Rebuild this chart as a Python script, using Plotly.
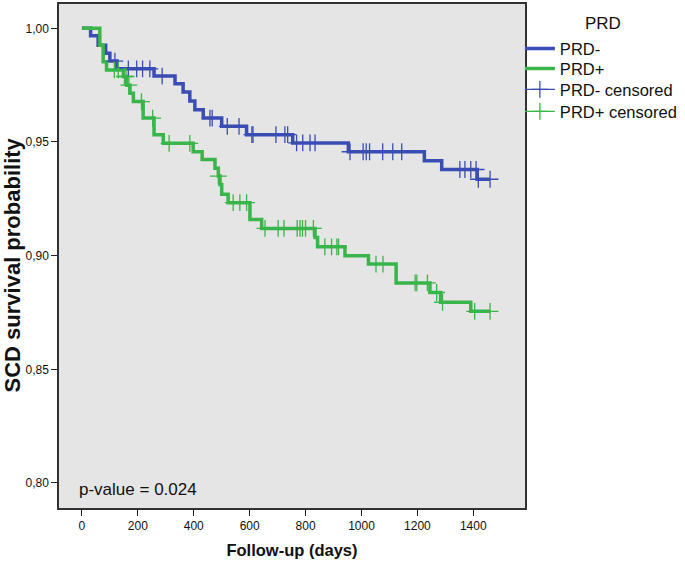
import plotly.graph_objects as go

# ---------------- data ----------------
# PRD- (blue) Kaplan-Meier step curve: event times (days) and survival after each step
neg_times = [0, 31, 58, 85, 100, 126, 258, 333, 362, 386, 404, 434, 500, 589, 754, 953, 1225, 1287, 1414, 1460]
neg_surv = [1.0, 0.9967, 0.9926, 0.9890, 0.9856, 0.9822, 0.9790, 0.9756, 0.9720, 0.9680, 0.9642, 0.9605,
            0.9569, 0.9532, 0.9496, 0.9457, 0.9418, 0.9379, 0.9336, 0.9336]
neg_censor = [118, 166, 196, 217, 243, 287, 458, 466, 520, 562, 608, 612, 694, 726, 736, 768, 790, 816, 834,
              959, 1006, 1017, 1029, 1076, 1112, 1144, 1352, 1370, 1391, 1410, 1418, 1460]

# PRD+ (green)
pos_times = [0, 64, 76, 88, 148, 160, 172, 184, 219, 258, 291, 398, 430, 476, 488, 494, 500, 523, 601, 643,
             834, 843, 941, 1025, 1124, 1245, 1283, 1391, 1460]
pos_surv = [1.0, 0.9926, 0.9853, 0.9817, 0.9788, 0.9750, 0.9714, 0.9678, 0.9605, 0.9532, 0.9494, 0.9457,
            0.9423, 0.9385, 0.9350, 0.9313, 0.9270, 0.9233, 0.9159, 0.9120, 0.9080, 0.9039, 0.9000, 0.8963,
            0.8880, 0.8838, 0.8795, 0.8755, 0.8755]
pos_censor = [116, 130, 152, 158, 168, 213, 253, 312, 386, 488, 541, 565, 589, 655, 702, 723, 770, 780, 789,
              800, 828, 869, 893, 912, 918, 1052, 1077, 1192, 1198, 1236, 1269, 1290, 1405, 1460]

x_ticks = [0, 200, 400, 600, 800, 1000, 1200, 1400]
y_ticks = [0.80, 0.85, 0.90, 0.95, 1.00]
y_ticktext = ["0,80", "0,85", "0,90", "0,95", "1,00"]
legend_names = ["PRD-", "PRD+", "PRD- censored", "PRD+ censored"]

BLUE = "#3a4db3"
GREEN = "#39b54a"


def surv_at(times, surv, t):
    val = surv[0]
    for tt, s in zip(times, surv):
        if tt <= t:
            val = s
    return val


def gapped(ts, times, surv):
    xs, ys = [], []
    for t in ts:
        xs += [t, None]
        ys += [surv_at(times, surv, t), None]
    return xs, ys


fig = go.Figure()
fig.add_trace(go.Scatter(x=neg_times, y=neg_surv, mode="lines", line=dict(shape="hv", color=BLUE, width=3.5),
                         name=legend_names[0], legend="legend"))
fig.add_trace(go.Scatter(x=pos_times, y=pos_surv, mode="lines", line=dict(shape="hv", color=GREEN, width=3.5),
                         name=legend_names[1], legend="legend2"))
nx, ny = gapped(neg_censor, neg_times, neg_surv)
fig.add_trace(go.Scatter(x=nx, y=ny, mode="lines+markers", connectgaps=False,
                         line=dict(color=BLUE, width=1.3),
                         marker=dict(symbol="cross-thin", size=12, line=dict(color=BLUE, width=1.3)),
                         name=legend_names[2], legend="legend3"))
px_, py_ = gapped(pos_censor, pos_times, pos_surv)
fig.add_trace(go.Scatter(x=px_, y=py_, mode="lines+markers", connectgaps=False,
                         line=dict(color=GREEN, width=1.3),
                         marker=dict(symbol="cross-thin", size=12, line=dict(color=GREEN, width=1.3)),
                         name=legend_names[3], legend="legend4"))

fig.add_annotation(x=-18, y=0.797, xref="x", yref="y", text="p-value = 0.024", showarrow=False,
                   xanchor="left", yanchor="middle", font=dict(size=17, color="#111"))
fig.add_annotation(x=1.1674, y=0.9605, xref="paper", yref="paper", text="PRD", showarrow=False,
                   xanchor="center", yanchor="middle", font=dict(size=17, color="#111"))
# y-axis title
fig.add_annotation(x=-0.1, y=0.482, xref="paper", yref="paper", text="<b>SCD survival probability</b>",
                   textangle=-90, showarrow=False, xanchor="center", yanchor="middle",
                   font=dict(size=22, color="#111"))


def leg(y):
    return dict(x=0.989, xanchor="left", y=y, yanchor="middle", bgcolor="rgba(0,0,0,0)",
                font=dict(size=16.5, color="#111"), itemwidth=30)


fig.update_layout(
    width=685, height=561,
    margin=dict(l=59, r=160, t=2, b=53),
    paper_bgcolor="white",
    plot_bgcolor="#e5e5e5",
    font=dict(family="Liberation Sans, Arial, sans-serif", color="#111"),
    showlegend=True,
    legend=leg(0.9111),
    legend2=leg(0.8716),
    legend3=leg(0.8301),
    legend4=leg(0.7866),
    xaxis=dict(range=[-82, 1585], tickvals=x_ticks, ticks="outside", ticklen=6, tickcolor="#222",
               showline=True, linecolor="#333", linewidth=1.5, mirror=True, showgrid=False, zeroline=False,
               tickfont=dict(size=12),
               title=dict(text="<b>Follow-up (days)</b>", font=dict(size=16.5), standoff=12)),
    yaxis=dict(range=[0.789, 1.0107], tickvals=y_ticks, ticktext=y_ticktext, ticks="outside", ticklen=6,
               tickcolor="#222", showline=True, linecolor="#333", linewidth=1.5, mirror=True, showgrid=False,
               zeroline=False, tickfont=dict(size=12)),
)

fig.write_html("out.html", config={"displayModeBar": False},
               post_script="document.body.style.margin='0';")
